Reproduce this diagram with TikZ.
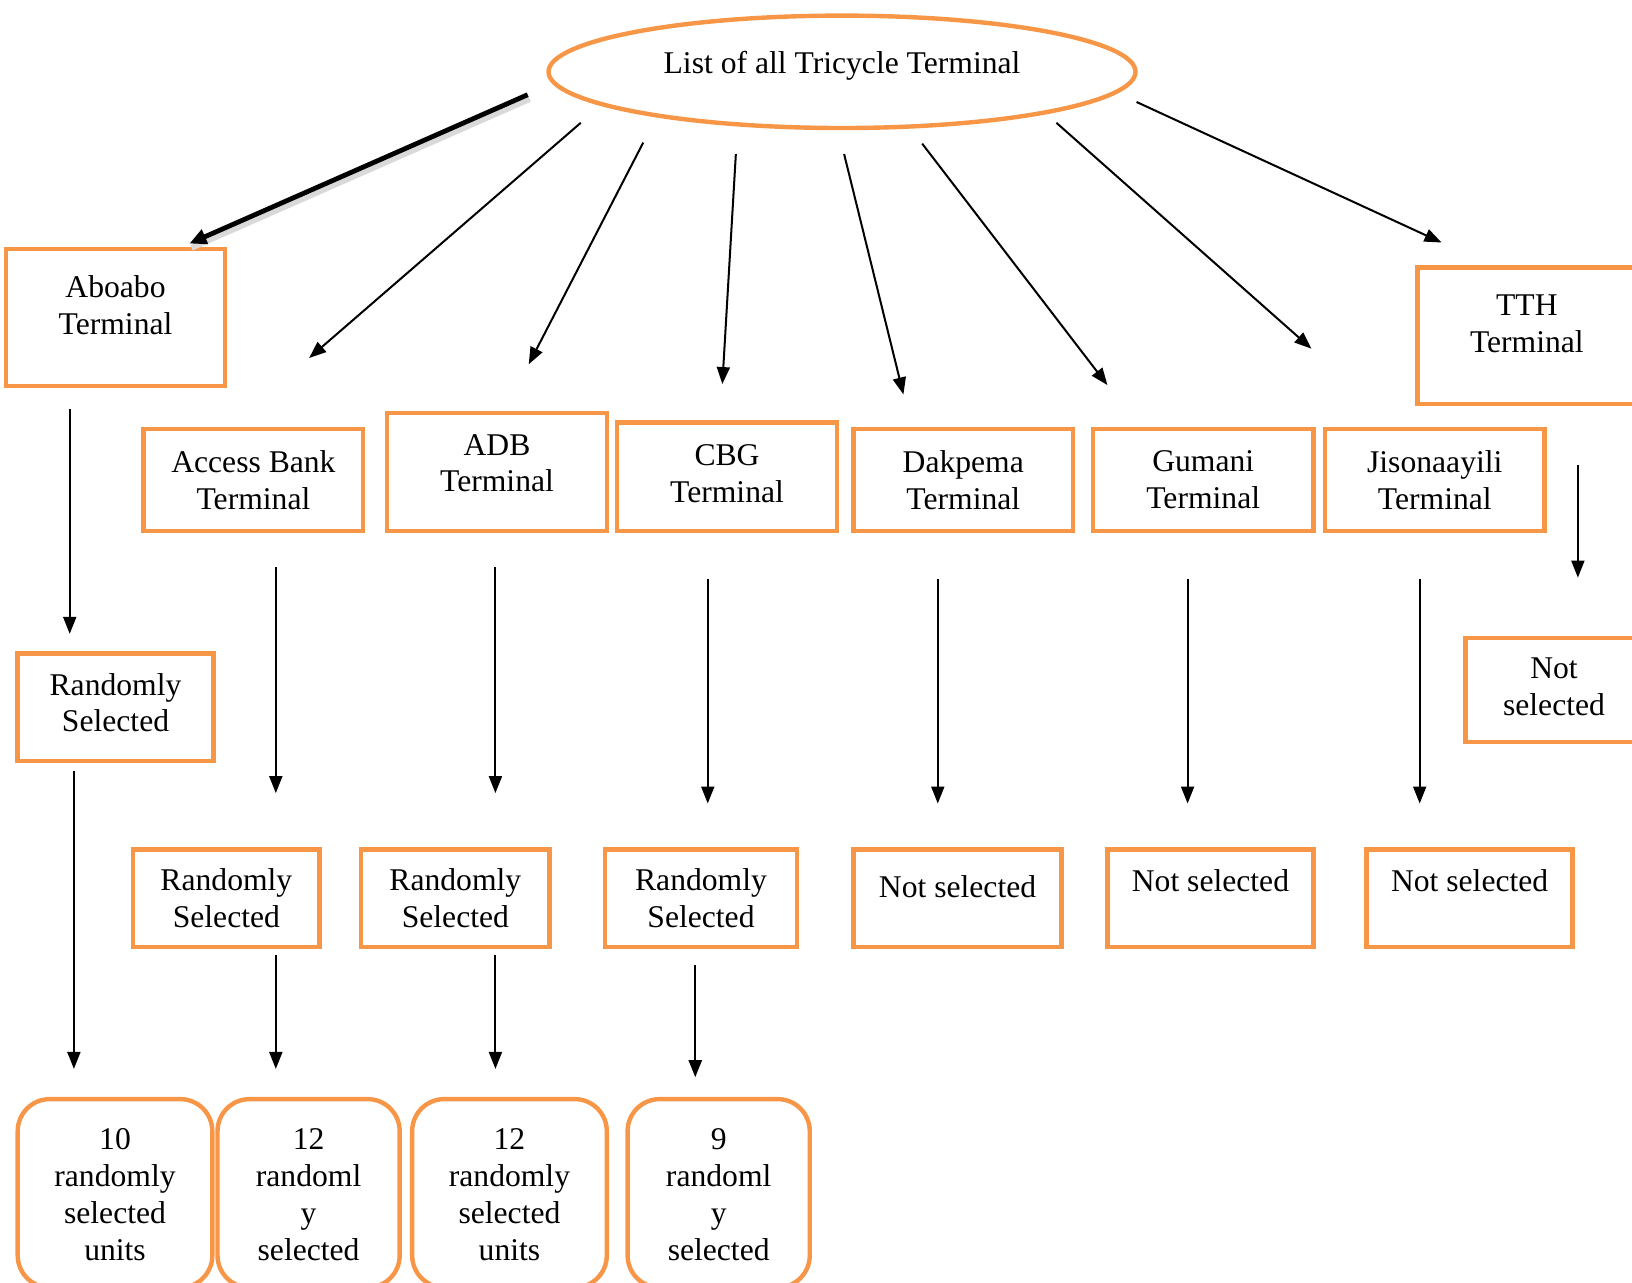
\documentclass[tikz,border=0pt]{standalone}
\usepackage{fontspec}
\setmainfont{Liberation Serif}
\usetikzlibrary{arrows.meta,shapes.geometric,fit}
\definecolor{boxorange}{HTML}{F79646}
\begin{document}
\begin{tikzpicture}[x=0.52pt,y=-0.52pt,
  every node/.style={font=\fontsize{15.8}{18.4}\selectfont},
  box/.style={draw=boxorange, line width=2.2pt, inner sep=0pt},
  rbox/.style={box, rounded corners=16pt},
  txt/.style={align=center, inner sep=0pt},
  arr/.style={-{Triangle[length=8.5pt,width=6.5pt]}, line width=1pt},
  thickarr/.style={-{Triangle[length=8.5pt,width=7.5pt]}, line width=2.4pt}]
\useasboundingbox (0,0) rectangle (1568,1232);

% top ellipse
\node (top) [ellipse, draw=boxorange, line width=2.2pt, minimum width=564*0.52pt, minimum height=108*0.52pt,
  label={[txt, yshift=3pt]center:List of all Tricycle Terminal}] at (809,69) {};

% first level
\node (aboabo) [box, fit={(6,239) (216,371)}, label={[txt, yshift=6.2pt]center:Aboabo\\Terminal}] {};
\node (access) [box, fit={(138,412) (349,510)}, label={[txt]center:Access Bank\\Terminal}] {};
\node (adb) [box, fit={(372,397) (583,510)}, label={[txt, yshift=4.4pt]center:ADB\\Terminal}] {};
\node (cbg) [box, fit={(593,406) (804,510)}, label={[txt, yshift=1.6pt]center:CBG\\Terminal}] {};
\node (dakpema) [box, fit={(820,412) (1031,510)}, label={[txt]center:Dakpema\\Terminal}] {};
\node (gumani) [box, fit={(1050,412) (1262,510)}, label={[txt]center:Gumani\\Terminal}] {};
\node (jison) [box, fit={(1273,412) (1484,510)}, label={[txt]center:Jisonaayili\\Terminal}] {};
\node (tth) [box, fit={(1362,257) (1600,388)}, label={[txt, xshift=-7.3pt, yshift=6pt]center:TTH\\Terminal}] {};

% second level
\node (randA) [box, fit={(17,628) (205,731)}, label={[txt, yshift=2.3pt]center:Randomly\\Selected}] {};
\node (notT) [box, fit={(1408,613) (1600,713)}, label={[txt, xshift=-5.7pt, yshift=1.6pt]center:Not\\selected}] {};
\node (randB) [box, fit={(128,816) (307,910)}, label={[txt]center:Randomly\\Selected}] {};
\node (randC) [box, fit={(347,816) (528,910)}, label={[txt]center:Randomly\\Selected}] {};
\node (randD) [box, fit={(581,816) (766,910)}, label={[txt]center:Randomly\\Selected}] {};
\node (notD) [box, fit={(820,816) (1020,910)}, label={[txt, yshift=5.7pt]center:Not selected}] {};
\node (notG) [box, fit={(1064,816) (1262,910)}, label={[txt, yshift=8.8pt]center:Not selected}] {};
\node (notJ) [box, fit={(1313,816) (1511,910)}, label={[txt, yshift=8.8pt]center:Not selected}] {};

% bottom rounded boxes
\node (unitsA) [rbox, fit={(17,1056) (204,1237)}, label={[txt, yshift=-0.7pt]center:10\\randomly\\selected\\units}] {};
\node (unitsB) [rbox, fit={(209,1056) (384,1237)}, label={[txt, yshift=-0.7pt]center:12\\randoml\\y\\selected}] {};
\node (unitsC) [rbox, fit={(396,1056) (583,1237)}, label={[txt, yshift=-0.7pt]center:12\\randomly\\selected\\units}] {};
\node (unitsD) [rbox, fit={(603,1056) (778,1237)}, label={[txt, yshift=-0.7pt]center:9\\randoml\\y\\selected}] {};

% arrow end points
\coordinate (s1) at (507,91);   \coordinate (e1) at (182,234);
\coordinate (s2) at (558,118);  \coordinate (e2) at (297,344);
\coordinate (s3) at (618,137);  \coordinate (e3) at (508,350);
\coordinate (s4) at (707,148);  \coordinate (e4) at (694,369);
\coordinate (s5) at (811,148);  \coordinate (e5) at (868,379);
\coordinate (s6) at (886,138);  \coordinate (e6) at (1064,370);
\coordinate (s7) at (1015,118); \coordinate (e7) at (1260,335);
\coordinate (s8) at (1092,98);  \coordinate (e8) at (1385,233);

\coordinate (v1s) at (67,393);   \coordinate (v1e) at (67,609);
\coordinate (v2s) at (71,741);   \coordinate (v2e) at (71,1027);
\coordinate (v3s) at (265,545);  \coordinate (v3e) at (265,762);
\coordinate (v4s) at (476,545);  \coordinate (v4e) at (476,762);
\coordinate (v5s) at (680,556);  \coordinate (v5e) at (680,772);
\coordinate (v6s) at (901,556);  \coordinate (v6e) at (901,772);
\coordinate (v7s) at (1141,556); \coordinate (v7e) at (1141,772);
\coordinate (v8s) at (1364,556); \coordinate (v8e) at (1364,772);
\coordinate (v9s) at (1516,447); \coordinate (v9e) at (1516,555);
\coordinate (w1s) at (265,918);  \coordinate (w1e) at (265,1027);
\coordinate (w2s) at (476,918);  \coordinate (w2e) at (476,1027);
\coordinate (w3s) at (668,927);  \coordinate (w3e) at (668,1035);

% thick arrow with shadow
\draw[line width=3pt, black!15] ([shift={(2,4)}]s1) -- ([shift={(2,4)}]e1);
\draw[thickarr] (s1) -- (e1);

\foreach \i in {2,...,8} \draw[arr] (s\i) -- (e\i);
\foreach \i in {1,...,9} \draw[arr] (v\i s) -- (v\i e);
\foreach \i in {1,2,3} \draw[arr] (w\i s) -- (w\i e);
\end{tikzpicture}
\end{document}
